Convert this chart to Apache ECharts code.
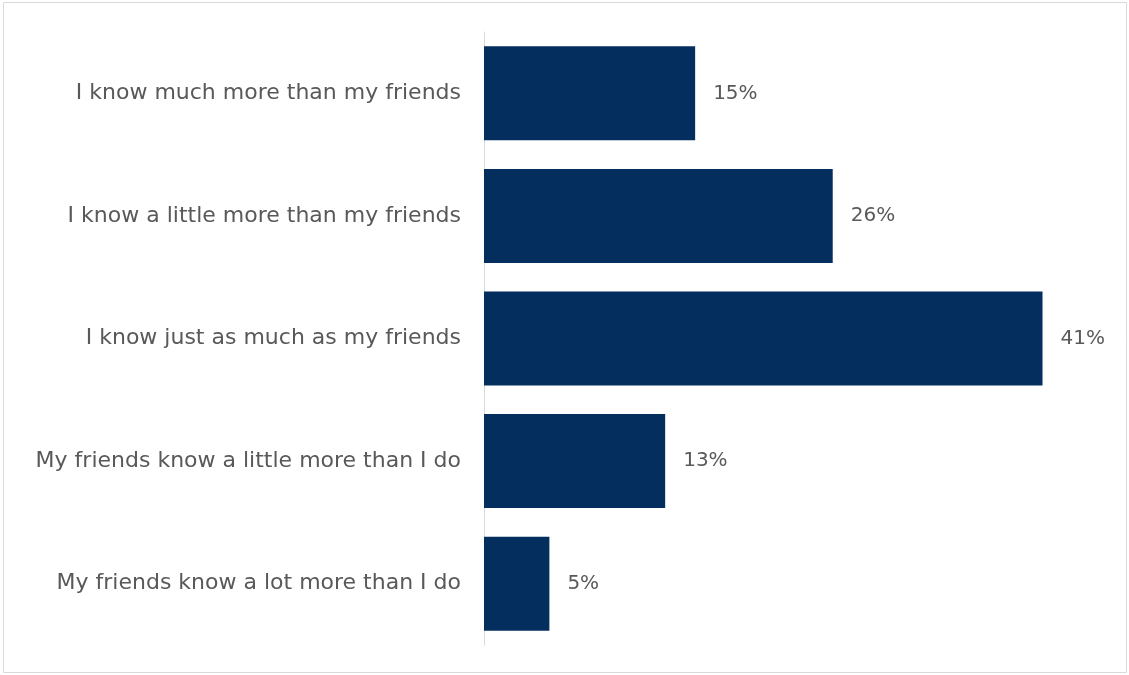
<!DOCTYPE html>
<html>
<head>
<meta charset="utf-8">
<script src="https://cdn.jsdelivr.net/npm/echarts@6/dist/echarts.min.js"></script>
<style>
html,body{margin:0;padding:0;background:#fff;}
#chart{width:1129px;height:675px;}
</style>
</head>
<body>
<div id="chart"></div>
<script>
const categories = [
  "I know much more than my friends",
  "I know a little more than my friends",
  "I know just as much as my friends",
  "My friends know a little more than I do",
  "My friends know a lot more than I do"
];
const values = [15.5, 25.6, 41, 13.3, 4.8];
const labels = ["15%", "26%", "41%", "13%", "5%"];

const chart = echarts.init(document.getElementById('chart'));
const FONT = 'DejaVu Sans';
chart.setOption({
  animation: false,
  graphic: [{
    type: 'rect',
    shape: {x: 3.5, y: 2.5, width: 1123, height: 670},
    style: {fill: 'none', stroke: '#d9d9d9', lineWidth: 1},
    silent: true
  }],
  grid: {left: 484, top: 32, right: 1129 - 1097, bottom: 675 - 645, containLabel: false},
  xAxis: {
    type: 'value', min: 0, max: 45,
    show: false
  },
  yAxis: {
    type: 'category',
    data: categories,
    inverse: true,
    axisLine: {show: true, lineStyle: {color: '#d9d9d9', width: 1}},
    axisTick: {show: false},
    axisLabel: {
      color: '#595959', fontFamily: FONT, fontSize: 22, margin: 23
    },
    splitLine: {show: false}
  },
  series: [{
    type: 'bar',
    data: values,
    barWidth: 94,
    itemStyle: {color: '#042E5E'},
    label: {
      show: true, position: 'right', distance: 18,
      color: '#595959', fontFamily: FONT, fontSize: 20,
      formatter: p => labels[p.dataIndex]
    }
  }]
});
</script>
</body>
</html>
